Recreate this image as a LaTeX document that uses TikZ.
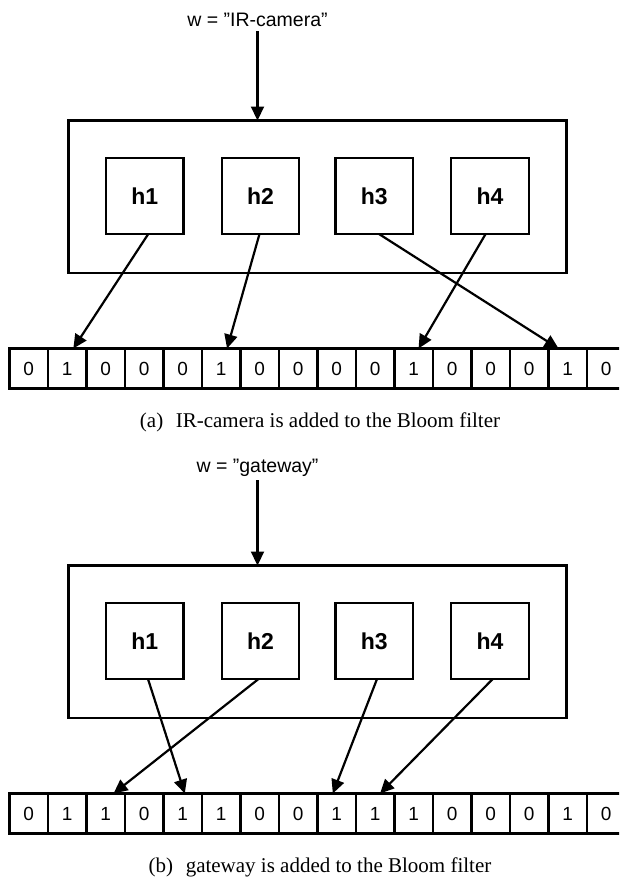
\documentclass[tikz,border=0pt]{standalone}
\usepackage{fontspec}
\setmainfont{Liberation Serif}
\setsansfont{Liberation Sans}
\usetikzlibrary{arrows.meta}
\begin{document}
\begin{tikzpicture}[x=1pt,y=-1pt,
  line width=2.4pt,
  hbox/.style={draw, minimum width=77.5pt, minimum height=76pt, inner sep=0pt, outer sep=0pt,
    font=\sffamily\bfseries\fontsize{23}{26}\selectfont},
  frame/.style={draw, minimum width=498pt, minimum height=152.5pt, inner sep=0pt, outer sep=0pt},
  bit/.style={draw, minimum width=38.5pt, minimum height=40pt, inner sep=0pt, outer sep=0pt,
    font=\sffamily\fontsize{19}{22}\selectfont},
  word/.style={font=\sffamily\fontsize{19.5}{22}\selectfont, anchor=base, inner sep=0pt, outer sep=4pt},
  captext/.style={font=\fontsize{21}{24}\selectfont, anchor=base, inner sep=0pt},
  link/.style={-{Triangle[length=14pt,width=13pt]}, line width=2.2pt},
]
\clip (0,0) rectangle (619,878);

% ---- (a) inserting "IR-camera" ----
\node[word] (aw) at (257.5,27) {w = ”IR-camera”};
\node[frame] (aframe) at (317.4,196.75) {};
\node[hbox] (ah1) at (144.75,196) {h1};
\node[hbox] (ah2) at (260.5,196) {h2};
\node[hbox] (ah3) at (374.25,196) {h3};
\node[hbox] (ah4) at (490,196) {h4};
\foreach \v [count=\i] in {0,1,0,0,0,1,0,0,0,0,1,0,0,0,1,0}
  \node[bit] (a\i) at ({9.3+38.5*(\i-0.5)},368.5) {\v};
\draw[link] (aw.south) -- (aw.south |- aframe.north);
\draw[link] ([xshift=3.5pt]ah1.south) -- ([xshift=6.25pt]a2.north);
\draw[link] ([xshift=-1pt]ah2.south) -- ([xshift=6pt]a6.north);
\draw[link] ([xshift=4.75pt]ah3.south) -- ([xshift=-9pt]a15.north);
\draw[link] ([xshift=-4.4pt]ah4.south) -- ([xshift=5pt]a11.north);
\node[captext] (acap) at (320,427) {(a)\hspace{0.6em}IR-camera is added to the Bloom filter};

% ---- (b) inserting "gateway" ----
\node[word] (bw) at (257.5,472) {w = ”gateway”};
\node[frame] (bframe) at (317.4,641.75) {};
\node[hbox] (bh1) at (144.75,641) {h1};
\node[hbox] (bh2) at (260.5,641) {h2};
\node[hbox] (bh3) at (374.25,641) {h3};
\node[hbox] (bh4) at (490,641) {h4};
\foreach \v [count=\i] in {0,1,1,0,1,1,0,0,1,1,1,0,0,0,1,0}
  \node[bit] (b\i) at ({9.3+38.5*(\i-0.5)},813.5) {\v};
\draw[link] (bw.south) -- (bw.south |- bframe.north);
\draw[link] ([xshift=3.25pt]bh1.south) -- ([xshift=2.25pt]b5.north);
\draw[link] ([xshift=-2pt]bh2.south) -- ([xshift=8pt]b3.north);
\draw[link] ([xshift=2.75pt]bh3.south) -- ([xshift=-3.75pt]b9.north);
\draw[link] ([xshift=2.7pt]bh4.south) -- ([xshift=5pt]b10.north);
\node[captext] (bcap) at (320,872) {(b)\hspace{0.6em}gateway is added to the Bloom filter};
\end{tikzpicture}
\end{document}
